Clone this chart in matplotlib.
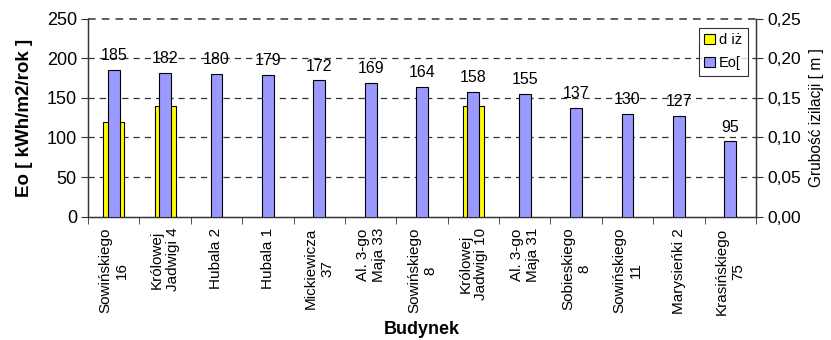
import matplotlib
matplotlib.use("Agg")
import matplotlib.pyplot as plt
import numpy as np
from matplotlib.ticker import FuncFormatter, FixedLocator
from matplotlib.patches import Patch

plt.rcParams['font.family'] = ['Liberation Sans', 'DejaVu Sans']

buildings = ["Sowińskiego\n16", "Królowej\nJadwigi 4", "Hubala 2", "Hubala 1",
             "Mickiewicza\n37", "Al. 3-go\nMaja 33", "Sowińskiego\n8",
             "Królowej\nJadwigi 10", "Al. 3-go\nMaja 31", "Sobieskiego\n8",
             "Sowińskiego\n11", "Marysieńki 2", "Krasińskiego\n75"]
eo = [185, 182, 180, 179, 172, 169, 164, 158, 155, 137, 130, 127, 95]
thickness = [0.12, 0.14, None, None, None, None, None, 0.14, None, None, None, None, None]
left_ticks = [0, 50, 100, 150, 200, 250]
right_ticks = [0.0, 0.05, 0.10, 0.15, 0.20, 0.25]

blue = "#9999FF"
yellow = "#FFFF00"
grid_color = "#333333"
dash = (0, (5, 4))

fig = plt.figure(figsize=(8.31, 3.40), dpi=100)
ax = fig.add_axes([0.1059, 0.3627, 0.9097 - 0.1059, 0.945 - 0.3627])
ax2 = ax.twinx()
ax.set_zorder(2)
ax2.set_zorder(1)
ax.patch.set_visible(False)

x = np.arange(len(buildings))

# insulation thickness (right axis), drawn behind
tx = [i for i, v in enumerate(thickness) if v is not None]
tv = [v for v in thickness if v is not None]
ax2.bar(tx, tv, width=0.41, color=yellow, edgecolor="black", linewidth=0.8, zorder=3)

# energy demand (left axis)
ax.bar(x, eo, width=0.23, color=blue, edgecolor="black", linewidth=0.8, zorder=3)
for xi, v in zip(x, eo):
    ax.annotate(str(v), (xi, v), xytext=(0, 5), textcoords="offset points",
                ha="center", va="bottom", fontsize=11.5)

ax.set_xlim(-0.5, len(buildings) - 0.5)
ax.set_ylim(left_ticks[0], left_ticks[-1])
ax2.set_ylim(right_ticks[0], right_ticks[-1])
ax.set_yticks(left_ticks)
ax2.set_yticks(right_ticks)
ax2.yaxis.set_major_formatter(FuncFormatter(lambda v, p: f"{v:.2f}".replace(".", ",")))

# dashed gridlines behind the bars; the top one closes the plot frame
for g in right_ticks[1:-1]:
    ax2.axhline(g, color=grid_color, linestyle=dash, linewidth=0.9, zorder=1)
ax.axhline(left_ticks[-1], color=grid_color, linestyle=dash, linewidth=1.1,
           zorder=5, clip_on=False)

ax.set_xticks(x)
ax.set_xticklabels(buildings, rotation=90, fontsize=11, multialignment="center")
ax.xaxis.set_minor_locator(FixedLocator(np.arange(-0.5, len(buildings), 1.0)))
ax.tick_params(axis="x", which="major", length=0, pad=8)
ax.tick_params(axis="x", which="minor", length=5, direction="out", color=grid_color)
ax.tick_params(axis="y", labelsize=13, length=5, direction="out", color=grid_color, pad=3)
ax2.tick_params(axis="y", labelsize=12.5, length=5, direction="out", color=grid_color, pad=3)
ax2.tick_params(axis="x", which="both", length=0, labelbottom=False)

for a in (ax, ax2):
    a.spines["top"].set_visible(False)
    for s in ("left", "right", "bottom"):
        a.spines[s].set_color(grid_color)
        a.spines[s].set_linewidth(0.9)

ax.set_ylabel("Eo [ kWh/m2/rok ]", fontsize=13.5, fontweight="bold", labelpad=10)
ax2.set_ylabel("Grubość izilacji [ m ]", fontsize=11.2, labelpad=6)
fig.text((0.1059 + 0.9097) / 2, 1 - 329 / 340, "Budynek", ha="center", va="center",
         fontsize=13, fontweight="bold")

handles = [Patch(facecolor=yellow, edgecolor="black", linewidth=0.8),
           Patch(facecolor=blue, edgecolor="black", linewidth=0.8)]
leg = ax.legend(handles, ["d iż", "Eo["], loc="upper right",
                bbox_to_anchor=(0.988, 0.955), fontsize=10.5, frameon=True,
                fancybox=False, handlelength=0.7, handleheight=0.7,
                handletextpad=0.3, borderpad=0.4, labelspacing=0.6,
                borderaxespad=0.0)
leg.get_frame().set_edgecolor("black")
leg.get_frame().set_linewidth(0.8)

fig.savefig("out.png", dpi=100)
